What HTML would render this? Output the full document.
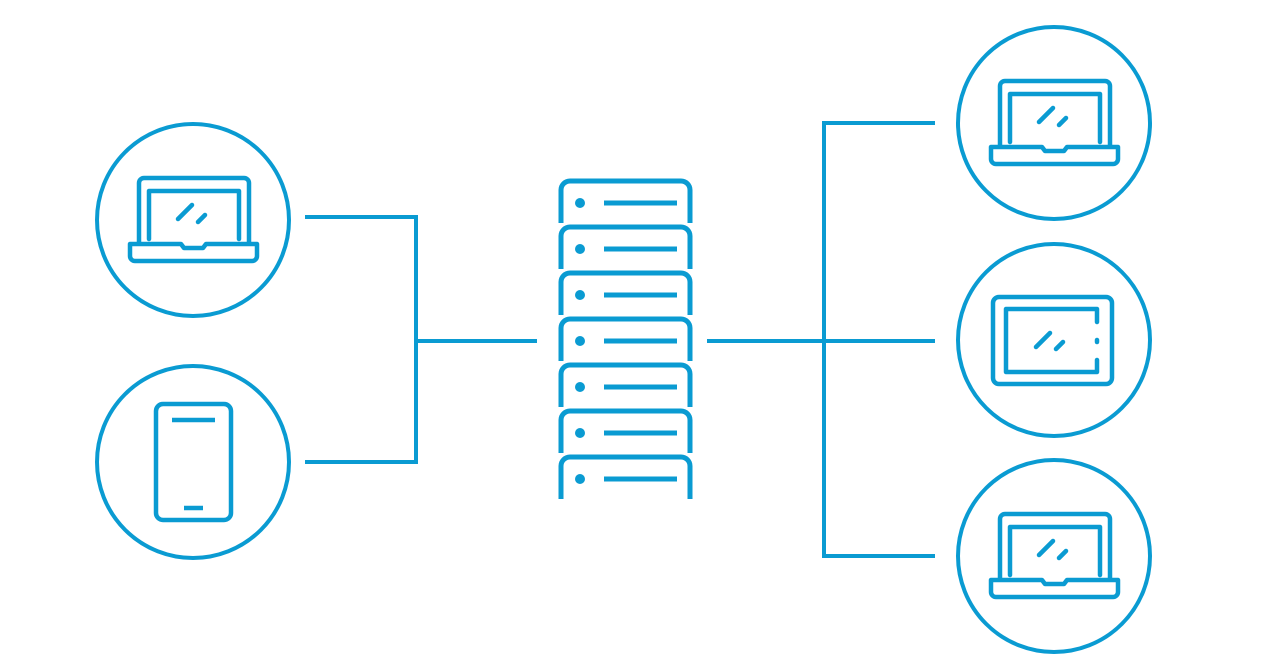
<!DOCTYPE html>
<html><head><style>html,body{margin:0;padding:0;background:#fff;}svg{display:block}</style></head>
<body>
<svg width="1280" height="669" viewBox="0 0 1280 669" xmlns="http://www.w3.org/2000/svg">
<defs>
<g id="laptop" fill="none" stroke="#0a9bd2" stroke-width="4.5" stroke-linecap="round" stroke-linejoin="round">
  <path d="M139 243 V183 a5 5 0 0 1 5 -5 H244 a5 5 0 0 1 5 5 V243"/>
  <path d="M149 239 V191 H239 V239"/>
  <path d="M130 244 H181 l3 4 H203 l3 -4 H257 V256 a5 5 0 0 1 -5 5 H135 a5 5 0 0 1 -5 -5 Z"/>
  <path d="M178 219 L192 205 M198 222 L205 215"/>
</g>
<g id="unit" fill="none" stroke="#0a9bd2" stroke-width="5" stroke-linecap="butt">
  <path d="M561 223 V190 a9 9 0 0 1 9 -9 H681 a9 9 0 0 1 9 9 V223"/>
  <circle cx="580" cy="203" r="5" fill="#0a9bd2" stroke="none"/>
  <path d="M604 203 H677"/>
</g>
</defs>
<g fill="none" stroke="#0a9bd2" stroke-width="4">
  <circle cx="193" cy="220" r="96"/>
  <circle cx="193" cy="462" r="96"/>
  <circle cx="1054" cy="123" r="96"/>
  <circle cx="1054" cy="340" r="96"/>
  <circle cx="1054" cy="556" r="96"/>
  <path d="M305 217 H416 V462 H305 M416 341 H537"/>
  <path d="M707 341 H935 M935 123 H824 V556 H935"/>
</g>
<use href="#laptop"/>
<use href="#laptop" transform="translate(861,-97)"/>
<use href="#laptop" transform="translate(861,336)"/>
<g fill="none" stroke="#0a9bd2" stroke-width="4.5" stroke-linecap="butt">
  <rect x="156" y="404" width="75" height="116" rx="7"/>
  <path d="M172 420 H215 M184 508 H203"/>
</g>
<g fill="none" stroke="#0a9bd2" stroke-width="4.5" stroke-linecap="round" stroke-linejoin="round">
  <rect x="993" y="297" width="119" height="87" rx="6"/>
  <path d="M1097 322 V309 H1006 V372 H1097 V360"/>
  <path d="M1097 340 V342"/>
  <path d="M1036 347 L1050 333 M1056 349 L1063 342"/>
</g>
<use href="#unit"/>
<use href="#unit" transform="translate(0,46)"/>
<use href="#unit" transform="translate(0,92)"/>
<use href="#unit" transform="translate(0,138)"/>
<use href="#unit" transform="translate(0,184)"/>
<use href="#unit" transform="translate(0,230)"/>
<use href="#unit" transform="translate(0,276)"/>
</svg>
</body></html>
